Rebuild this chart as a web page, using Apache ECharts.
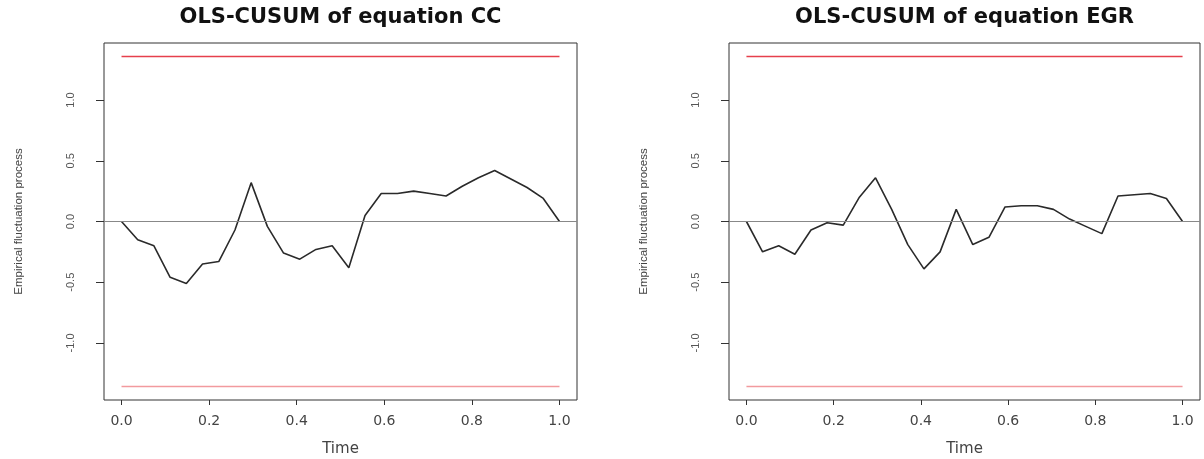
<!DOCTYPE html>
<html>
<head>
<meta charset="utf-8">
<script src="https://cdn.jsdelivr.net/npm/echarts@6/dist/echarts.min.js"></script>
<style>
  html, body { margin: 0; padding: 0; background: #fff; }
  #main { width: 1204px; height: 459px; }
</style>
</head>
<body>
<div id="main"></div>
<script>
// time points
var timePoints = [0.000, 0.037, 0.074, 0.111, 0.148, 0.185, 0.222, 0.259, 0.296, 0.333,
                  0.370, 0.407, 0.444, 0.481, 0.519, 0.556, 0.593, 0.630, 0.667, 0.704,
                  0.741, 0.778, 0.815, 0.852, 0.889, 0.926, 0.963, 1.000];
// OLS-CUSUM of equation CC
var cusumCC = [0, -0.15, -0.20, -0.46, -0.51, -0.35, -0.33, -0.07, 0.32, -0.04,
               -0.26, -0.31, -0.23, -0.20, -0.38, 0.05, 0.23, 0.23, 0.25, 0.23,
               0.21, 0.29, 0.36, 0.42, 0.35, 0.28, 0.19, 0];
// OLS-CUSUM of equation EGR
var cusumEGR = [0, -0.25, -0.20, -0.27, -0.07, -0.01, -0.03, 0.20, 0.36, 0.10,
                -0.19, -0.39, -0.25, 0.10, -0.19, -0.13, 0.12, 0.13, 0.13, 0.10,
                0.02, -0.04, -0.10, 0.21, 0.22, 0.23, 0.19, 0];
// 5% boundary
var boundary = 1.358;
var boundaryTimes = [0, 1];
var xTicks = [0, 0.2, 0.4, 0.6, 0.8, 1.0];
var yTicks = [-1.0, -0.5, 0, 0.5, 1.0];
var titles = ['OLS-CUSUM of equation CC', 'OLS-CUSUM of equation EGR'];

function zip(xs, ys) {
    var out = [];
    for (var i = 0; i < xs.length; i++) out.push([xs[i], ys[i]]);
    return out;
}
function flat(v) {
    return boundaryTimes.map(function (t) { return [t, v]; });
}

var myChart = echarts.init(document.getElementById('main'));

var grids = [
    { left: 104, top: 43, width: 473, height: 357 },
    { left: 729, top: 43, width: 471, height: 357 }
];

var option = {
    backgroundColor: '#fff',
    animation: false,
    title: [],
    grid: [],
    xAxis: [],
    yAxis: [],
    series: []
};

grids.forEach(function (g, k) {
    option.title.push({
        text: titles[k],
        left: g.left + g.width / 2,
        textAlign: 'center',
        top: 7,
        padding: 0,
        textStyle: { fontFamily: 'DejaVu Sans', fontWeight: 'bold', fontSize: 21, color: '#111' }
    });
    option.grid.push({
        left: g.left, top: g.top, width: g.width, height: g.height,
        outerBoundsMode: 'none', containLabel: false,
        show: true, borderColor: '#333', borderWidth: 1, backgroundColor: 'transparent'
    });
    option.xAxis.push({
        type: 'value', gridIndex: k, min: -0.04, max: 1.04,
        name: 'Time', nameLocation: 'middle', nameGap: 42,
        nameTextStyle: { fontFamily: 'DejaVu Sans', fontSize: 15, color: '#444' },
        splitLine: { show: false },
        axisLine: { show: false, onZero: false },
        axisTick: { customValues: xTicks, length: 5, lineStyle: { color: '#333' } },
        axisLabel: {
            customValues: xTicks, margin: 14,
            fontFamily: 'DejaVu Sans', fontSize: 14, color: '#444',
            formatter: function (v) { return v.toFixed(1); }
        }
    });
    option.yAxis.push({
        type: 'value', gridIndex: k, min: -1.47, max: 1.47,
        name: 'Empirical fluctuation process', nameLocation: 'middle', nameRotate: 90, nameGap: 79,
        nameTextStyle: { fontFamily: 'Liberation Sans', fontSize: 11.5, color: '#444' },
        splitLine: { show: false },
        axisLine: { show: false, onZero: false },
        axisTick: { customValues: yTicks, length: 8, lineStyle: { color: '#333' } },
        axisLabel: {
            customValues: yTicks, rotate: 90, margin: 28,
            fontFamily: 'Liberation Sans', fontSize: 11, color: '#555',
            formatter: function (v) { return v.toFixed(1); }
        }
    });
    option.series.push({
        type: 'line', xAxisIndex: k, yAxisIndex: k,
        data: zip(timePoints, k === 0 ? cusumCC : cusumEGR),
        symbol: 'none',
        lineStyle: { color: '#2a2a2a', width: 1.6 },
        markLine: {
            silent: true, symbol: 'none', label: { show: false },
            lineStyle: { color: '#888', width: 1, type: 'solid' },
            data: [{ yAxis: 0 }]
        },
        z: 3
    });
    option.series.push({
        type: 'line', xAxisIndex: k, yAxisIndex: k,
        data: flat(boundary), symbol: 'none',
        lineStyle: { color: '#e6404c', width: 1.5 }
    });
    option.series.push({
        type: 'line', xAxisIndex: k, yAxisIndex: k,
        data: flat(-boundary), symbol: 'none',
        lineStyle: { color: '#f29a9e', width: 1.5 }
    });
});

myChart.setOption(option);
</script>
</body>
</html>
